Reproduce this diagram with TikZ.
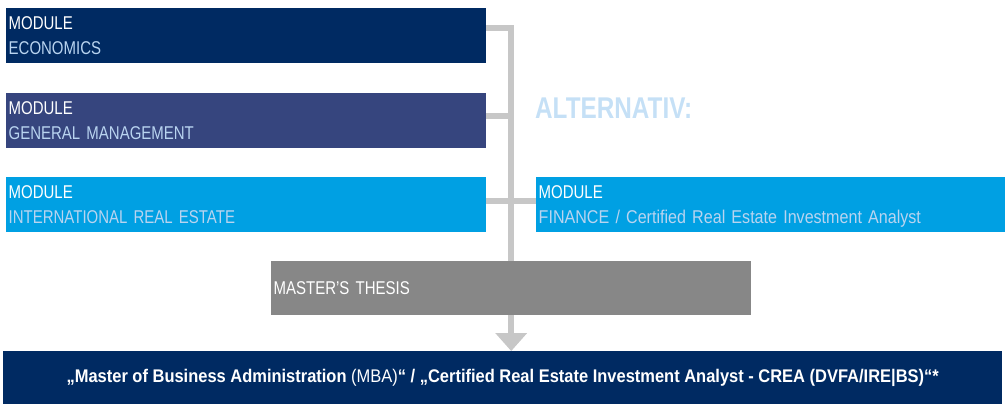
\documentclass[tikz,border=0pt]{standalone}
\usepackage{fontspec}
\setmainfont{Liberation Sans}[FakeStretch=0.81]
\newfontfamily\degreefont{Liberation Sans}[FakeStretch=0.9]
\newfontfamily\finfont{Liberation Sans}[FakeStretch=0.87]
\usepackage{tikz}
\usetikzlibrary{arrows.meta, positioning, calc}
\definecolor{econblue}{RGB}{0,42,98}
\definecolor{mgmtblue}{RGB}{54,69,126}
\definecolor{realblue}{RGB}{0,160,227}
\definecolor{thesisgray}{RGB}{135,135,135}
\definecolor{linegray}{RGB}{199,199,199}
\definecolor{sublight}{RGB}{185,212,240}
\definecolor{altlight}{RGB}{197,224,246}

\begin{document}
\begin{tikzpicture}[
  x=1pt, y=-1pt,
  module/.style={
    rectangle, anchor=north west, inner xsep=2.5pt, inner ysep=0pt,
    minimum width=480pt, minimum height=55pt,
    text width=475pt, align=left, text=white,
    font=\fontsize{18.5}{25}\selectfont
  },
  conn/.style={draw=linegray, line width=6pt},
  degreebox/.style={
    rectangle, anchor=north west, fill=econblue, inner sep=0pt,
    minimum width=999pt, minimum height=53pt, text=white,
    font=\degreefont\fontsize{18.3}{20}\selectfont\bfseries
  }
]
\useasboundingbox (0,0) rectangle (1005,405);

% ---- modules ----
\node[module, fill=econblue] (econ) at (6,8)   {MODULE\\\textcolor{sublight}{ECONOMICS}};
\node[module, fill=mgmtblue] (mgmt) at (6,93)  {MODULE\\\textcolor{sublight}{GENERAL MANAGEMENT}};
\node[module, fill=realblue] (ire)  at (6,177) {MODULE\\\textcolor{sublight}{INTERNATIONAL REAL ESTATE}};
\node[module, fill=realblue, minimum width=469pt, text width=464pt] (fin) at (536,177)
  {MODULE\\\textcolor{sublight}{\smash{\finfont FINANCE / Certified Real Estate Investment Analyst}}};

\node[anchor=base west, inner sep=0pt, text=altlight, font=\fontsize{30}{30}\selectfont\bfseries]
  (alt) at (535,118) {ALTERNATIV:};

\node[module, fill=thesisgray, minimum height=54pt, inner xsep=2pt] (thesis) at (271,261) {MASTER’S THESIS};

\node[degreebox] (degree) at (3,351)
  {„Master of Business Administration {\mdseries(MBA)}“ / „Certified Real Estate Investment Analyst - CREA (DVFA/IRE|BS)“*};

% ---- connectors ----
\draw[conn] ([yshift=7.5pt]econ.east) -| (thesis.north);
\draw[conn] ([yshift=4.5pt]mgmt.east) -- ([yshift=4.5pt]mgmt.east -| thesis.north);
\draw[conn] ([yshift=3.5pt]ire.east) -- ([yshift=3.5pt]fin.west);
\draw[conn, -{Triangle[width=32pt, length=18pt, line width=0pt]}] (thesis.south) -- (degree.north -| thesis.south);

\end{tikzpicture}
\end{document}
